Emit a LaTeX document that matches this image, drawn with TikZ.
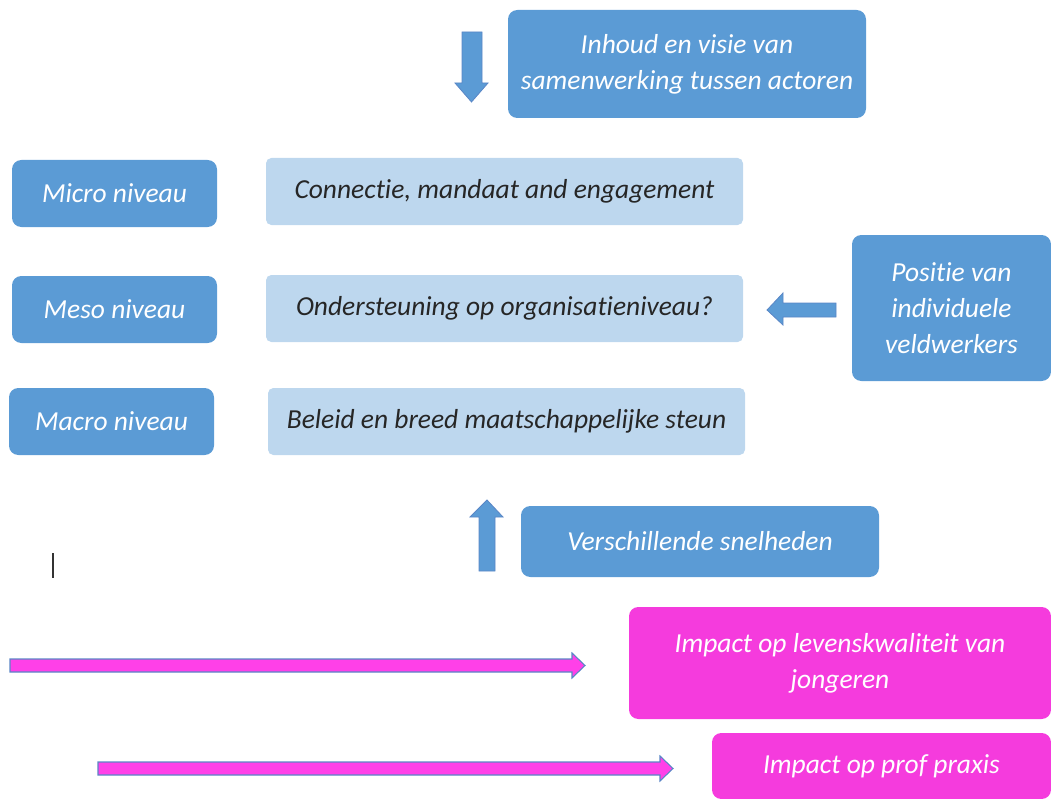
\documentclass[tikz,border=0pt]{standalone}
\usepackage{fontspec}
\setmainfont{Carlito}[Ligatures={NoCommon}]
\usetikzlibrary{fit}
\definecolor{bblue}{HTML}{5B9BD5}
\definecolor{lblue}{HTML}{BDD7EE}
\definecolor{pinkbox}{HTML}{F53BDD}
\definecolor{pinkarrow}{HTML}{FF40E8}
\definecolor{arrowline}{HTML}{5A86C6}
\begin{document}
\begin{tikzpicture}[x=0.75pt,y=-0.75pt,
  txt/.style={font=\itshape\fontsize{20.6}{27}\selectfont, align=center, inner sep=0pt},
  wtxt/.style={txt, text=white},
  btxt/.style={txt, text=black!85},
  darkbox/.style={fill=bblue, rounded corners=7pt, inner sep=0pt},
  lightbox/.style={fill=lblue, rounded corners=4pt, inner sep=0pt},
  pinkbx/.style={fill=pinkbox, rounded corners=7pt, inner sep=0pt},
  blockarrow/.style={fill=bblue, draw=arrowline, line width=0.6pt, line join=miter},
  pinkblock/.style={fill=pinkarrow, draw=arrowline, line width=0.8pt, line join=miter}]
\useasboundingbox (0,0) rectangle (1051,799);

% boxes
\node[darkbox, fit={(508,10)(866,118)}] (inhoud) {};
\node[wtxt] (inhoud-t) at (inhoud.center) {Inhoud en visie van\\samenwerking tussen actoren};
\node[darkbox, fit={(12,160)(217,227)}] (micro) {};
\node[wtxt] (micro-t) at (micro.center) {Micro niveau};
\node[lightbox, fit={(266,158)(743,225)}] (connectie) {};
\node[btxt] (connectie-t) at (connectie.center) {Connectie, mandaat and engagement};
\node[darkbox, fit={(12,276)(217,343)}] (meso) {};
\node[wtxt] (meso-t) at (meso.center) {Meso niveau};
\node[lightbox, fit={(266,275)(743,342)}] (onder) {};
\node[btxt] (onder-t) at (onder.center) {Ondersteuning op organisatieniveau?};
\node[darkbox, fit={(9,388)(214,455)}] (macro) {};
\node[wtxt] (macro-t) at (macro.center) {Macro niveau};
\node[lightbox, fit={(268,388)(745,455)}] (beleid) {};
\node[btxt] (beleid-t) at (beleid.center) {Beleid en breed maatschappelijke steun};
\node[darkbox, fit={(852,235)(1051,381)}] (positie) {};
\node[wtxt] (positie-t) at (positie.center) {Positie van\\individuele\\veldwerkers};
\node[darkbox, fit={(521,506)(879,577)}] (snel) {};
\node[wtxt] (snel-t) at (snel.center) {Verschillende snelheden};
\node[pinkbx, fit={(629,607)(1051,719)}] (impact1) {};
\node[wtxt] (impact1-t) at (impact1.center) {Impact op levenskwaliteit van\\jongeren};
\node[pinkbx, fit={(712,733)(1051,799)}] (impact2) {};
\node[wtxt] (impact2-t) at (impact2.center) {Impact op prof praxis};

% block arrows
\draw[blockarrow] (462,32) -- (482,32) -- (482,83) -- (488,83) -- (471.5,102) -- (455,83) -- (462,83) -- cycle;
\draw[blockarrow] (836,303) -- (836,317) -- (783,317) -- (783,325) -- (767,310) -- (783,293) -- (783,303) -- cycle;
\draw[blockarrow] (479,571) -- (495,571) -- (495,517) -- (503,517) -- (487,500) -- (470,517) -- (479,517) -- cycle;
\draw[pinkblock] (10,659) -- (572,659) -- (572,653) -- (585,665.5) -- (572,678) -- (572,672) -- (10,672) -- cycle;
\draw[pinkblock] (98,762) -- (660,762) -- (660,756) -- (673,768.5) -- (660,781) -- (660,775) -- (98,775) -- cycle;

% text cursor
\coordinate (curtop) at (53,553);
\coordinate (curbot) at (53,578);
\draw[line width=1pt, black!80] (curtop) -- (curbot);
\end{tikzpicture}
\end{document}
